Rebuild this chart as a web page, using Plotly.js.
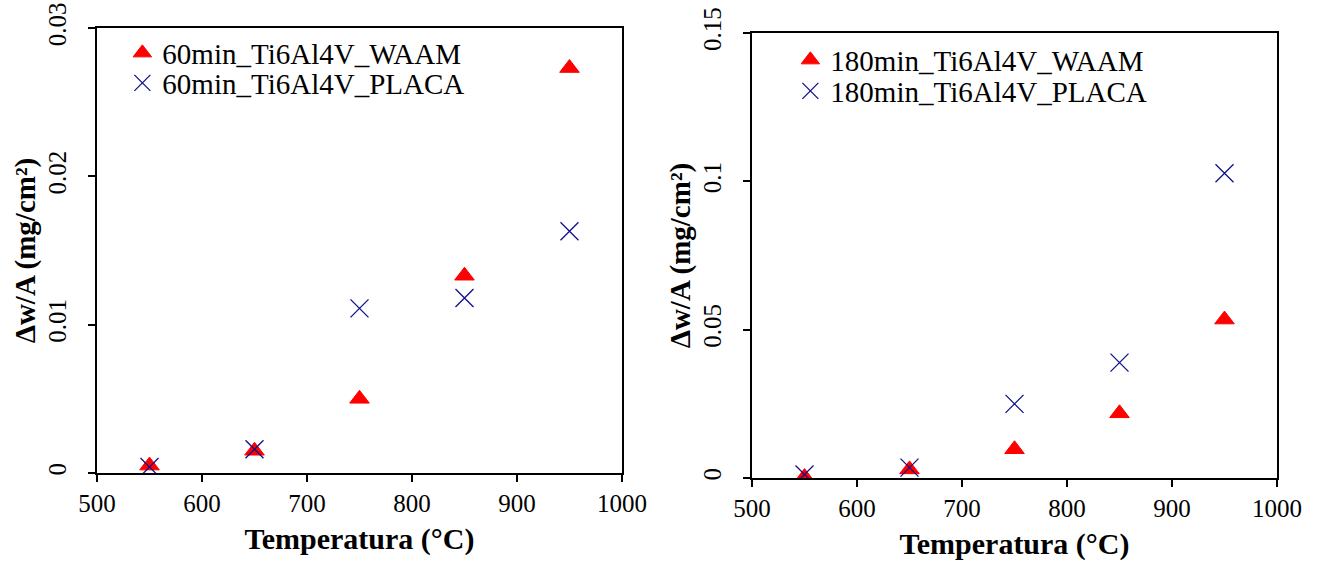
<!DOCTYPE html>
<html>
<head>
<meta charset="utf-8">
<script src="https://cdn.plot.ly/plotly-3.0.1.min.js"></script>
<style>html,body{margin:0;padding:0;background:#fff;}#chart{width:1320px;height:562px;}</style>
</head>
<body>
<div id="chart"></div>
<script>
// Temperatures (°C)
const temperatures = [550, 650, 750, 850, 950];
// 60 min exposure, Δw/A (mg/cm²)
const waam60 = [0.0005, 0.0015, 0.0050, 0.0133, 0.0273];
const placa60 = [0.0004, 0.0016, 0.0111, 0.0118, 0.0163];
// 180 min exposure, Δw/A (mg/cm²)
const waam180 = [0.0003, 0.0029, 0.0097, 0.0218, 0.0534];
const placa180 = [0.0012, 0.0035, 0.0250, 0.0389, 0.1027];

const names = {
  waam60: '60min_Ti6Al4V_WAAM', placa60: '60min_Ti6Al4V_PLACA',
  waam180: '180min_Ti6Al4V_WAAM', placa180: '180min_Ti6Al4V_PLACA'
};
const xTickVals = [500, 600, 700, 800, 900, 1000];
const y1TickVals = [0, 0.01, 0.02, 0.03];
const y1TickText = ['0', '0.01', '0.02', '0.03'];
const y2TickVals = [0, 0.05, 0.1, 0.15];
const y2TickText = ['0', '0.05', '0.1', '0.15'];

const FONT = 'Liberation Serif, Times New Roman, serif';
const RED = '#ff0000';
const BLUE = '#10108a';

const triMarker = {symbol: 'triangle-up', size: 17, color: RED, line: {color: RED, width: 1}};
const xMarker = {symbol: 'x-thin-open', size: 18, color: BLUE, line: {color: BLUE, width: 1.3}};

const traces = [
  {x: temperatures, y: waam60, name: names.waam60, type: 'scatter', mode: 'markers', marker: triMarker, xaxis: 'x', yaxis: 'y', legend: 'legend'},
  {x: temperatures, y: placa60, name: names.placa60, type: 'scatter', mode: 'markers', marker: xMarker, xaxis: 'x', yaxis: 'y', legend: 'legend2'},
  {x: temperatures, y: waam180, name: names.waam180, type: 'scatter', mode: 'markers', marker: triMarker, xaxis: 'x2', yaxis: 'y2', legend: 'legend3'},
  {x: temperatures, y: placa180, name: names.placa180, type: 'scatter', mode: 'markers', marker: xMarker, xaxis: 'x2', yaxis: 'y2', legend: 'legend4'}
];

function xAxis(domain, anchor) {
  return {
    domain: domain, anchor: anchor, range: [500, 1000],
    tickvals: xTickVals, ticks: 'outside', ticklen: 7, tickwidth: 2, tickcolor: '#000',
    showline: true, linecolor: '#000', linewidth: 2, mirror: true,
    showgrid: false, zeroline: false, automargin: false,
    tickfont: {family: FONT, size: 25, color: '#000'},
    title: {text: '<b>Temperatura (°C)</b>', font: {family: FONT, size: 30, color: '#000'}, standoff: 12}
  };
}
function yAxis(domain, anchor, range, vals, text) {
  return {
    domain: domain, anchor: anchor, range: range,
    tickvals: vals, ticktext: text, tickangle: -90,
    ticks: 'outside', ticklen: 7, tickwidth: 2, tickcolor: '#000',
    ticklabelstandoff: 12,
    showline: true, linecolor: '#000', linewidth: 2, mirror: true,
    showgrid: false, zeroline: false, automargin: false,
    tickfont: {family: FONT, size: 25, color: '#000'},
    title: {text: '<b>Δw/A (mg/cm²)</b>', font: {family: FONT, size: 29, color: '#000'}, standoff: 0}
  };
}

const legendBase = {
  font: {family: FONT, size: 29, color: '#000'},
  bgcolor: 'rgba(0,0,0,0)', borderwidth: 0,
  xanchor: 'left', yanchor: 'middle', itemwidth: 30
};

const layout = {
  width: 1320, height: 562,
  margin: {l: 97, r: 43, t: 28, b: 84},
  paper_bgcolor: '#fff', plot_bgcolor: '#fff',
  showlegend: true,
  xaxis: xAxis([0, 0.4449], 'y'),
  yaxis: yAxis([0.0111, 1], 'x', [0, 0.03], y1TickVals, y1TickText),
  xaxis2: xAxis([0.5551, 1], 'y2'),
  yaxis2: yAxis([0, 0.9889], 'x2', [0, 0.15], y2TickVals, y2TickText),
  legend: Object.assign({}, legendBase, {x: 0.0215, y: 0.9444}),
  legend2: Object.assign({}, legendBase, {x: 0.0215, y: 0.8778}),
  legend3: Object.assign({}, legendBase, {x: 0.5876, y: 0.9289}),
  legend4: Object.assign({}, legendBase, {x: 0.5876, y: 0.86})
};

Plotly.newPlot('chart', traces, layout, {staticPlot: true, displayModeBar: false});
</script>
</body>
</html>
